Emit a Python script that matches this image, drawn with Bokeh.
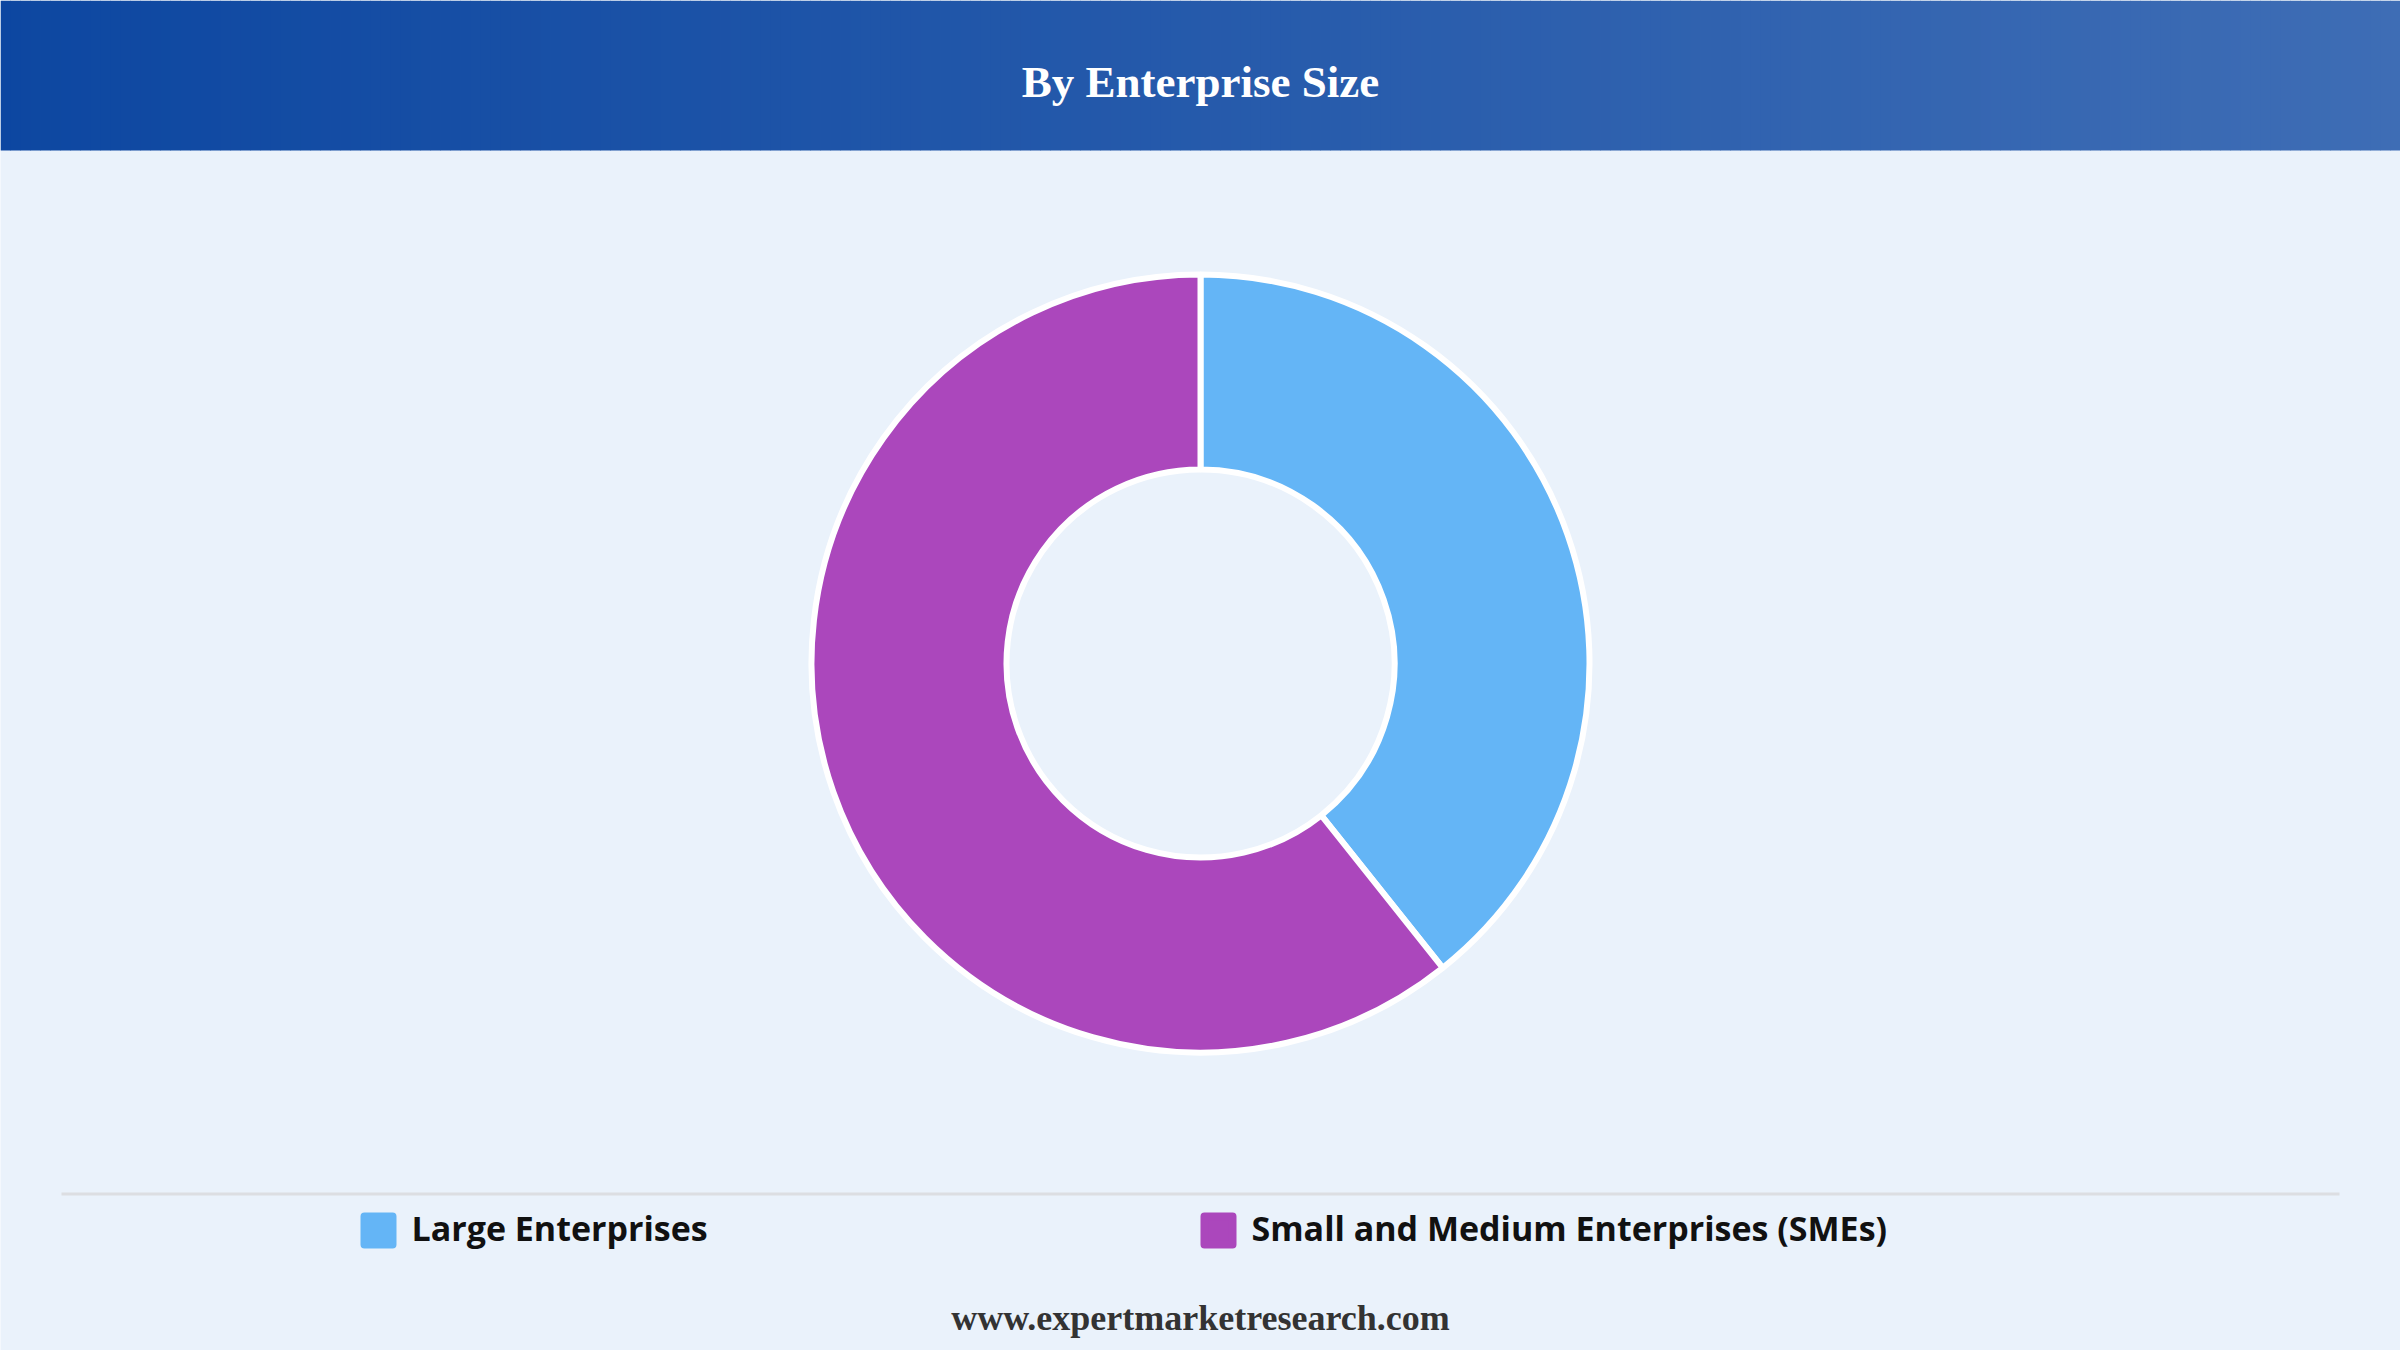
import numpy as np
from bokeh.plotting import figure
from bokeh.models import Range1d, ColumnDataSource
from bokeh.core.properties import value
from bokeh.embed import file_html
from bokeh.resources import INLINE

# ---- data ----
title = "By Enterprise Size"
categories = ["Large Enterprises", "Small and Medium Enterprises (SMEs)"]
shares = [39.3, 60.7]
colors = ["#64B5F6", "#AB47BC"]
footer = "www.expertmarketresearch.com"

W, H = 2400, 1350
TXT = 15  # baseline compensation for svg text
def Y(y):  # reference screen y -> data y (up)
    return H - y

p = figure(width=W, height=H, output_backend="svg",
           toolbar_location=None, x_range=Range1d(0, W),
           y_range=Range1d(0, H), min_border=0)
p.axis.visible = False
p.grid.visible = False
p.outline_line_color = None
bg = "#EAF2FB"
p.background_fill_color = bg
p.border_fill_color = bg

# ---- header gradient ----
c0 = np.array([0x0D, 0x47, 0xA1])
c1 = np.array([0x3E, 0x6D, 0xB5])
n = 240
xs = np.linspace(0, W, n + 1)
cols = []
for i in range(n):
    t = (i + 0.5) / n
    c = (c0 * (1 - t) + c1 * t).round().astype(int)
    cols.append("#%02x%02x%02x" % tuple(c))
p.quad(left=xs[:-1], right=xs[1:] + 0.5, bottom=Y(150), top=Y(0),
       fill_color=cols, line_color=None)
p.text(x=[W / 2], y=[Y(96 - TXT)], text=[title], text_align="center",
       text_baseline="alphabetic", text_color="white",
       text_font=value("Liberation Serif"), text_font_style="bold",
       text_font_size="45px")

# ---- donut ----
frac = np.array(shares) / np.sum(shares)
cum = np.concatenate([[0], np.cumsum(frac)])
start = np.pi / 2 - 2 * np.pi * cum[1:]
end = np.pi / 2 - 2 * np.pi * cum[:-1]
src = ColumnDataSource(dict(cat=categories, start=start, end=end, color=colors))
p.annular_wedge(x=W / 2, y=Y(663), inner_radius=194, outer_radius=389,
                inner_radius_units="screen", outer_radius_units="screen",
                start_angle="start", end_angle="end", fill_color="color",
                line_color="white", line_width=6, source=src)

# ---- separator ----
p.segment(x0=[61], y0=[Y(1193.5)], x1=[2339], y1=[Y(1193.5)],
          line_color="#DCDEE2", line_width=3)

# ---- legend ----
leg_x = [360, 1200]
sw = 36
p.rect(x=[lx + sw / 2 for lx in leg_x], y=[Y(1230)] * len(categories),
       width=sw - 8, height=sw - 8, width_units="screen", height_units="screen",
       fill_color=colors, line_color=colors, line_width=8, line_join="round")
p.text(x=[lx + 51 for lx in leg_x], y=[Y(1242 - TXT)] * len(categories),
       text=categories, text_align="left", text_baseline="alphabetic",
       text_color="#111111", text_font=value("Open Sans"),
       text_font_style="bold", text_font_size="34px")

# ---- footer ----
p.text(x=[W / 2], y=[Y(1332 - TXT)], text=[footer], text_align="center",
       text_baseline="alphabetic", text_color="#333333",
       text_font=value("Liberation Serif"), text_font_style="bold",
       text_font_size="36px")

open("out.html", "w").write(file_html(p, INLINE))
